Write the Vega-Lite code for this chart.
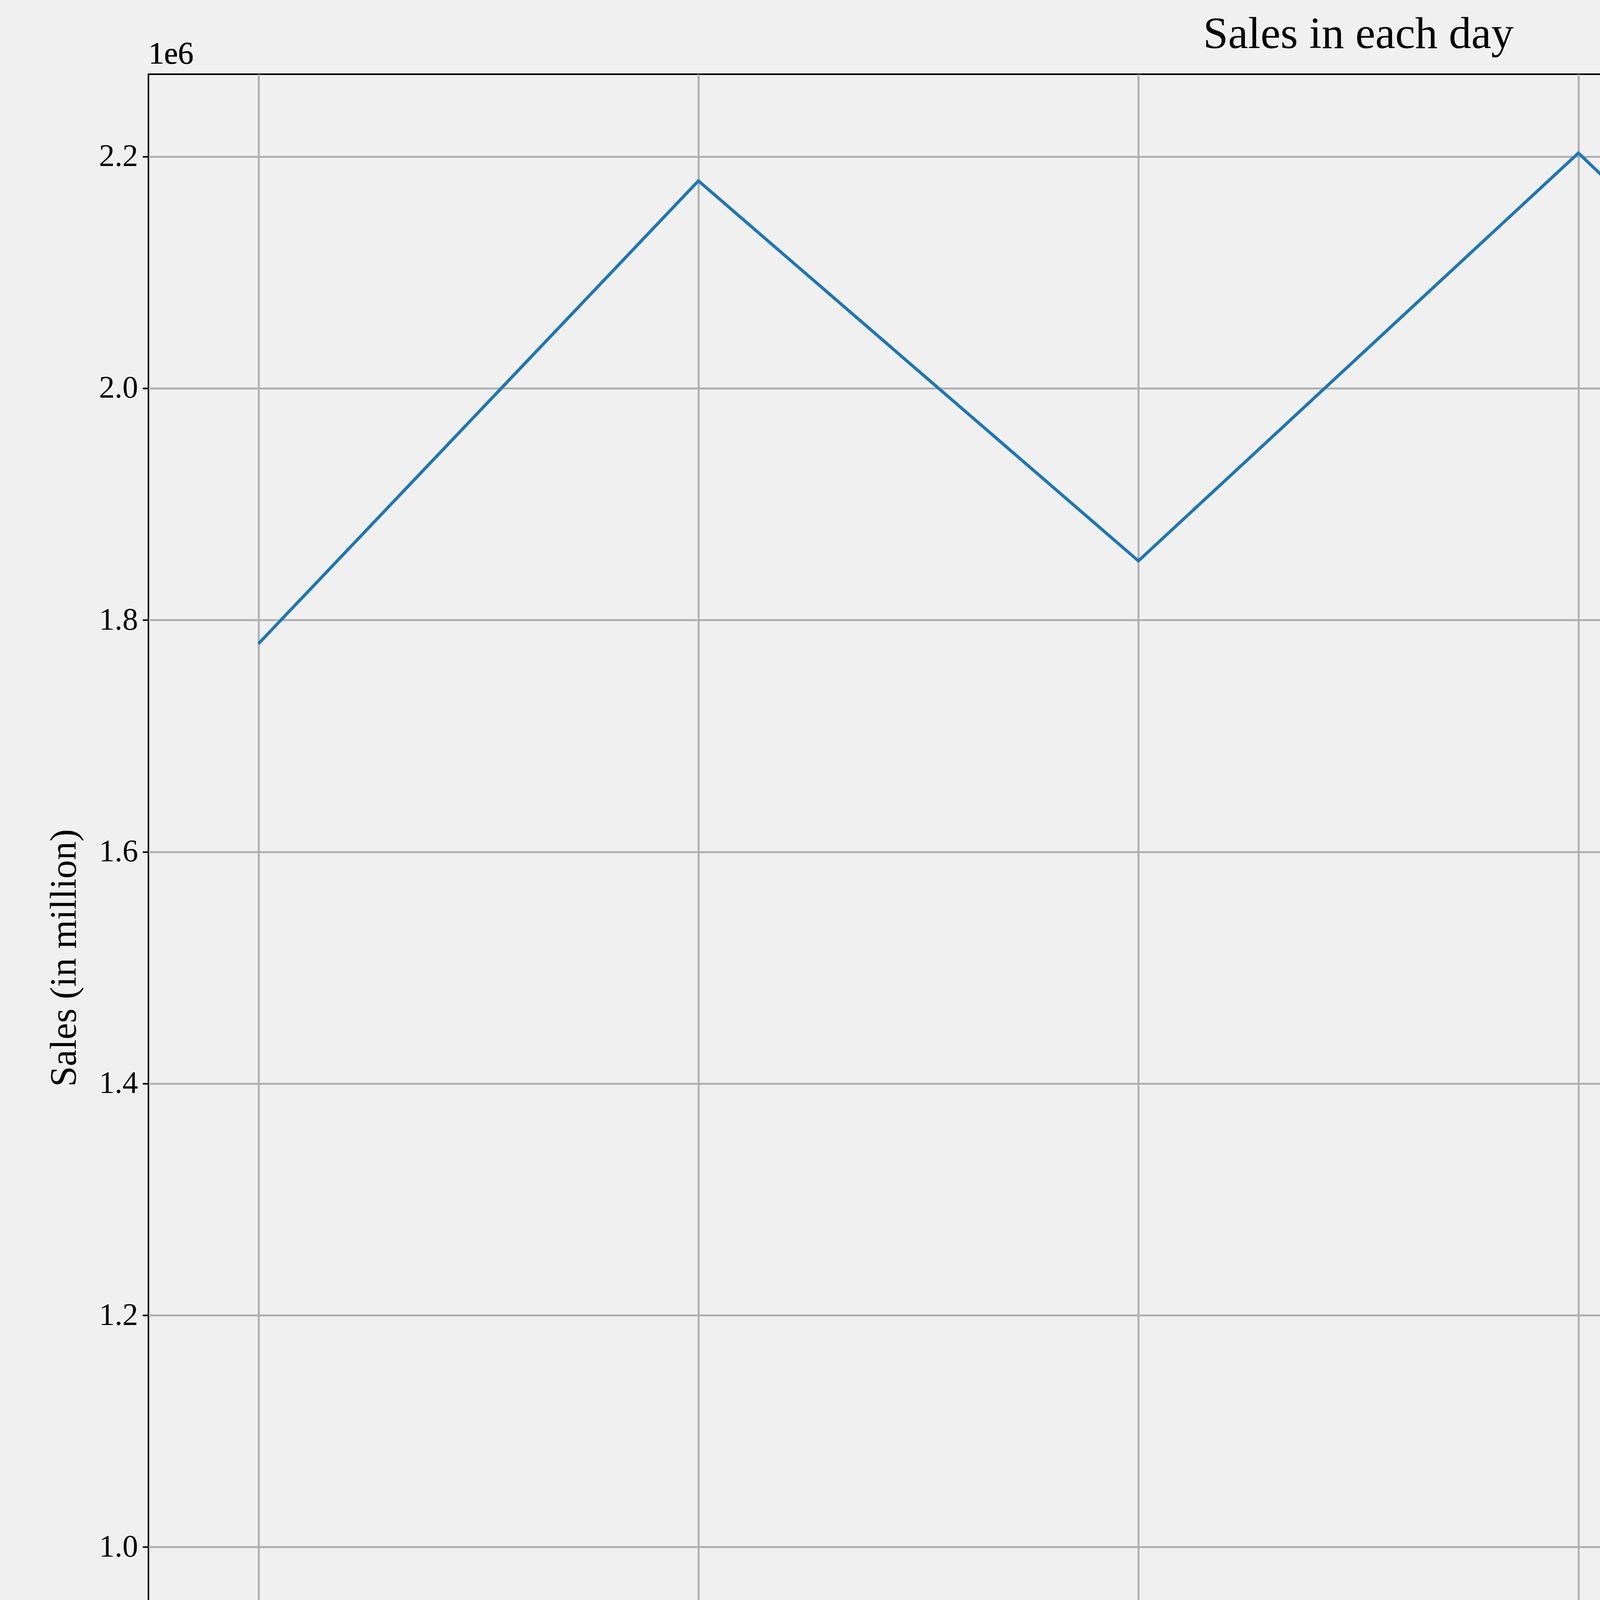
{
  "$schema": "https://vega.github.io/schema/vega-lite/v6.json",
  "width": 6195,
  "height": 4524,
  "autosize": "none",
  "padding": {"left": 380, "top": 190, "right": 54, "bottom": 345},
  "background": "#f0f0f0",
  "title": {"text": "Sales in each day", "font": "Liberation Serif", "fontSize": 115, "fontWeight": "normal", "color": "black", "offset": -48},
  "data": {
    "values": [
      {"Day": "Monday", "Sales": 1779500},
      {"Day": "Tuesday", "Sales": 2179000},
      {"Day": "Wednesday", "Sales": 1851000},
      {"Day": "Thrusday", "Sales": 2203000},
      {"Day": "Friday", "Sales": 1841000},
      {"Day": "Sunday", "Sales": 813000}
    ]
  },
  "layer": [
    {
      "mark": {"type": "line", "color": "#1f77b4", "strokeWidth": 8},
      "encoding": {
        "x": {
          "field": "Day", "type": "ordinal", "sort": null,
          "scale": {"type": "point", "padding": 0.25},
          "axis": {"title": "Days", "labelAngle": 0, "grid": true, "gridColor": "#b0b0b0", "gridWidth": 5, "tickColor": "black", "tickWidth": 4, "tickSize": 15, "labelPadding": 12, "titlePadding": 20}
        },
        "y": {
          "field": "Sales", "type": "quantitative",
          "scale": {"domain": [746000, 2271000], "nice": false, "zero": false},
          "axis": {"title": "Sales (in million)", "values": [800000, 1000000, 1200000, 1400000, 1600000, 1800000, 2000000, 2200000], "labelExpr": "format(datum.value/1e6, '.1f')", "grid": true, "gridColor": "#b0b0b0", "gridWidth": 5, "tickColor": "black", "tickWidth": 4, "tickSize": 15, "labelPadding": 12, "titlePadding": 40}
        }
      }
    },
    {
      "mark": {"type": "text", "text": "1e6", "align": "left", "baseline": "bottom", "font": "Liberation Serif", "fontSize": 80, "color": "black"},
      "encoding": {"x": {"value": 0}, "y": {"value": -10}}
    }
  ],
  "config": {
    "view": {"stroke": "black", "strokeWidth": 4},
    "axis": {"labelFont": "Liberation Serif", "labelFontSize": 80, "labelColor": "black", "titleFont": "Liberation Serif", "titleFontSize": 95, "titleFontWeight": "normal", "titleColor": "black", "domain": false}
  }
}
